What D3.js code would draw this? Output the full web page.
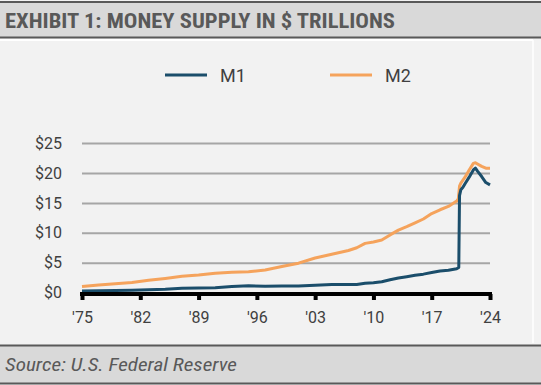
<!DOCTYPE html>
<html>
<head>
<meta charset="utf-8">
<script src="https://cdn.jsdelivr.net/npm/d3@7"></script>
<style>
  html, body { margin: 0; padding: 0; background: #f2f2f2; }
  svg { display: block; }
</style>
</head>
<body>
<svg id="chart" width="541" height="385"></svg>
<script>
// decimal year -> $ trillions
const m1Years  = [1975, 1977, 1979, 1981, 1983, 1985, 1987, 1989, 1991, 1993, 1995, 1997, 1999, 2001, 2003, 2005, 2007, 2008, 2009, 2010, 2011, 2012, 2013, 2014, 2015, 2016, 2017, 2018, 2019, 2020, 2020.25, 2020.34, 2020.5, 2020.75, 2021, 2021.5, 2022, 2022.25, 2022.5, 2023, 2023.5, 2024]
const m1Values = [0.28, 0.32, 0.37, 0.42, 0.49, 0.58, 0.74, 0.78, 0.84, 1.03, 1.15, 1.08, 1.10, 1.12, 1.25, 1.36, 1.37, 1.38, 1.58, 1.68, 1.84, 2.17, 2.46, 2.68, 2.93, 3.10, 3.36, 3.63, 3.74, 4.00, 4.20, 16.2, 17.2, 17.6, 18.2, 19.3, 20.5, 20.8, 20.3, 19.4, 18.4, 18.0]

const m2Years  = [1975, 1977, 1979, 1981, 1983, 1985, 1987, 1989, 1991, 1993, 1995, 1997, 1999, 2001, 2003, 2005, 2007, 2008, 2009, 2010, 2011, 2012, 2013, 2014, 2015, 2016, 2017, 2018, 2019, 2020, 2020.2, 2020.34, 2020.5, 2021, 2021.5, 2022, 2022.25, 2022.5, 2023, 2023.5, 2024]
const m2Values = [1.02, 1.29, 1.50, 1.70, 2.07, 2.38, 2.74, 2.96, 3.25, 3.42, 3.49, 3.80, 4.36, 4.93, 5.80, 6.42, 7.05, 7.50, 8.24, 8.48, 8.80, 9.65, 10.45, 11.03, 11.67, 12.31, 13.22, 13.85, 14.41, 15.30, 15.70, 17.8, 18.3, 19.3, 20.5, 21.6, 21.7, 21.5, 21.1, 20.8, 20.8]

const xTicks = [1975, 1982, 1989, 1996, 2003, 2010, 2017, 2024]
const yTicks = [0, 5, 10, 15, 20, 25]
const seriesNames = ['M1', 'M2']
const seriesColors = ['#1b4e6b', '#f5a35c']

const m1 = m1Years.map((y, i) => ({year: y, value: m1Values[i]}))
const m2 = m2Years.map((y, i) => ({year: y, value: m2Values[i]}))

const svg = d3.select('#chart')

// HEADER BAR
svg.append('rect').attr('x', 0).attr('y', 1).attr('width', 541).attr('height', 37).attr('fill', '#d9d9d9')
svg.append('line').attr('x1', 0).attr('x2', 541).attr('y1', 2).attr('y2', 2).attr('stroke', '#595959').attr('stroke-width', 2)
svg.append('line').attr('x1', 0).attr('x2', 541).attr('y1', 37.5).attr('y2', 37.5).attr('stroke', '#595959').attr('stroke-width', 2)
svg.append('text')
    .text('EXHIBIT 1: MONEY SUPPLY IN $ TRILLIONS')
    .attr('x', 5).attr('y', 28)
    .attr('font-family', '"Liberation Sans Narrow", "Roboto Condensed", "Arial Narrow", sans-serif')
    .attr('font-weight', 'bold')
    .attr('font-size', '21px')
    .attr('textLength', 390).attr('lengthAdjust', 'spacingAndGlyphs')
    .attr('fill', '#595959')

// white edges of the panel
svg.append('line').attr('x1', 0).attr('x2', 533).attr('y1', 40).attr('y2', 40).attr('stroke', '#ffffff').attr('stroke-width', 2)
svg.append('line').attr('x1', 533).attr('x2', 533).attr('y1', 40).attr('y2', 343).attr('stroke', '#ffffff').attr('stroke-width', 1.5)

// FOOTER BAR
svg.append('rect').attr('x', 0).attr('y', 345).attr('width', 541).attr('height', 39).attr('fill', '#d9d9d9')
svg.append('line').attr('x1', 0).attr('x2', 541).attr('y1', 345.5).attr('y2', 345.5).attr('stroke', '#595959').attr('stroke-width', 2)
svg.append('line').attr('x1', 0).attr('x2', 541).attr('y1', 383.5).attr('y2', 383.5).attr('stroke', '#595959').attr('stroke-width', 2)
svg.append('text')
    .text('Source: U.S. Federal Reserve')
    .attr('x', 5).attr('y', 371)
    .attr('font-family', '"Liberation Sans Narrow", "Roboto Condensed", "Arial Narrow", sans-serif')
    .attr('font-style', 'italic')
    .attr('font-size', '18px')
    .attr('textLength', 232).attr('lengthAdjust', 'spacingAndGlyphs')
    .attr('fill', '#595959')

// SCALES
const xScale = d3.scaleLinear([1975, 2024], [82, 490])
const yScale = d3.scaleLinear([0, 25], [292.7, 143])

// GRID + Y LABELS
const yAxis = d3.axisLeft(yScale)
    .tickValues(yTicks)
    .tickSize(-(490 - 82))
    .tickPadding(20)
    .tickFormat(d => '$' + d)
svg.append('g')
    .attr('class', 'y-axis')
    .attr('transform', 'translate(82, 0)')
    .call(yAxis)
    .call(g => g.select('.domain').remove())
    .call(g => g.selectAll('line').attr('stroke', '#a6a6a6').attr('stroke-width', 2))
    .call(g => g.selectAll('text')
        .attr('font-family', 'Roboto, sans-serif')
        .attr('font-size', '16px')
        .attr('fill', '#404040'))

// LINES
const line = d3.line()
    .x(d => xScale(d.year))
    .y(d => yScale(d.value))

svg.append('path').datum(m2)
    .attr('d', line)
    .attr('fill', 'none')
    .attr('stroke', seriesColors[1])
    .attr('stroke-width', 3)
    .attr('stroke-linejoin', 'round')

svg.append('path').datum(m1)
    .attr('d', line)
    .attr('fill', 'none')
    .attr('stroke', seriesColors[0])
    .attr('stroke-width', 3)
    .attr('stroke-linejoin', 'round')

// X AXIS
const xAxis = d3.axisBottom(xScale)
    .tickValues(xTicks)
    .tickSize(6)
    .tickPadding(12)
    .tickFormat(d => "'" + String(d).slice(2))
svg.append('g')
    .attr('class', 'x-axis')
    .attr('transform', 'translate(0, 294)')
    .call(xAxis)
    .call(g => g.select('.domain').attr('stroke', '#000').attr('stroke-width', 4).attr('d', 'M80,0H492'))
    .call(g => g.selectAll('line').attr('stroke', '#000').attr('stroke-width', 4))
    .call(g => g.selectAll('text')
        .attr('font-family', 'Roboto, sans-serif')
        .attr('font-size', '16px')
        .attr('fill', '#404040'))

// LEGEND
const legend = svg.append('g').attr('class', 'legend')
legend.selectAll('line')
    .data(seriesNames)
    .join('line')
    .attr('x1', (d, i) => 165 + i * 165)
    .attr('x2', (d, i) => 207 + i * 165)
    .attr('y1', 75).attr('y2', 75)
    .attr('stroke', (d, i) => seriesColors[i])
    .attr('stroke-width', 3)
legend.selectAll('text')
    .data(seriesNames)
    .join('text')
    .text(d => d)
    .attr('x', (d, i) => 220 + i * 165)
    .attr('y', 82)
    .attr('font-family', 'Roboto, sans-serif')
    .attr('font-size', '18px')
    .attr('fill', '#404040')
</script>
</body>
</html>
